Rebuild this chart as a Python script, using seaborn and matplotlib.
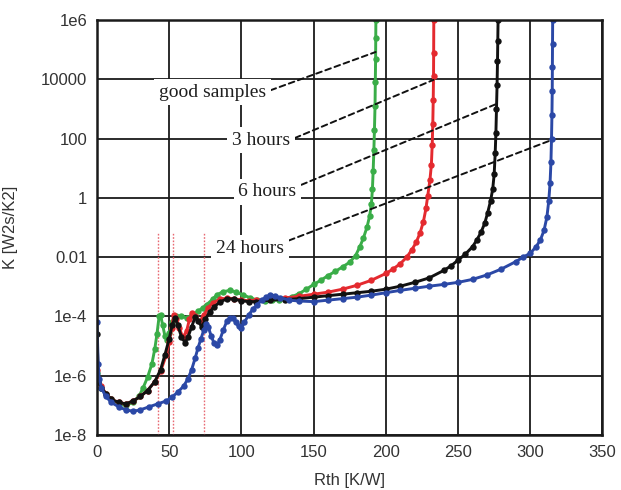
import numpy as np
import pandas as pd
import matplotlib
matplotlib.use("Agg")
import matplotlib.pyplot as plt
import seaborn as sns
from matplotlib.ticker import FixedLocator, FixedFormatter, NullLocator

# Structure functions: cumulative thermal capacitance K versus thermal resistance Rth
series_names = ["good samples", "3 hours", "6 hours", "24 hours"]
series_colors = ["#3aad48", "#e42a2f", "#111111", "#2b48a6"]

good_rth = [0, 1, 3, 6, 10, 15, 20, 25, 29, 32, 35, 38, 40, 41.5, 43, 44, 45.5, 47, 48.5, 50,
            52, 55, 58, 62, 66, 70, 73.5, 76, 80, 83, 87, 92, 96, 101, 106, 111, 116, 121, 126, 130,
            135, 140, 145, 150, 155, 160, 165, 170, 175, 179, 182, 184.5, 187, 188.8, 190, 190.7,
            191.2, 191.7, 192.1, 192.5, 192.7, 192.9, 193.0, 193.1]
good_logk = [-5.9, -6.15, -6.4, -6.6, -6.8, -6.95, -7.0, -6.9, -6.7, -6.4, -6.05, -5.6, -5.1, -4.6,
             -4.0, -3.95, -4.3, -4.65, -4.8, -4.55, -4.2, -4.0, -3.98, -4.05, -3.95, -3.82, -3.7,
             -3.6, -3.42, -3.27, -3.17, -3.12, -3.17, -3.27, -3.37, -3.45, -3.47, -3.46, -3.43, -3.4,
             -3.33, -3.23, -3.08, -2.92, -2.78, -2.62, -2.48, -2.33, -2.17, -1.95, -1.65, -1.35,
             -0.98, -0.6, -0.2, 0.3, 0.9, 1.6, 2.3, 3.1, 3.9, 4.7, 5.4, 6.0]

h3_rth = [0, 1, 3, 6, 10, 15, 20, 25, 30, 35, 40, 44, 48, 50, 51.8, 53, 55, 57, 59.5, 62,
          64, 66, 68, 71, 74, 77, 80, 85, 90, 95, 100, 105, 110, 120, 130, 140, 150, 160, 170, 180,
          190, 200, 205, 210, 214.5, 218, 221, 223.7, 226, 227.8, 229, 230.5, 231.5, 232.1, 232.5,
          232.8, 233, 233.1, 233.2]
h3_logk = [-5.8, -6.1, -6.35, -6.6, -6.8, -6.9, -6.95, -6.85, -6.7, -6.5, -6.2, -5.85, -5.3, -4.85,
           -4.4, -3.95, -4.1, -4.4, -4.7, -4.5, -4.1, -3.88, -4.0, -4.17, -3.95, -3.7, -3.55, -3.42,
           -3.38, -3.4, -3.45, -3.47, -3.45, -3.42, -3.38, -3.32, -3.25, -3.18, -3.08, -2.95,
           -2.78, -2.55, -2.4, -2.22, -2.0, -1.75, -1.5, -1.18, -0.8, -0.35, 0.07, 0.6, 1.1, 1.8,
           2.5, 3.3, 4.1, 4.9, 6.0]

h6_rth = [0, 1, 3, 6, 10, 15, 20, 25, 30, 35, 40, 44, 47, 50, 52, 54, 56, 58.5, 61, 63,
          65.5, 68, 70, 72.5, 75, 78, 81, 85, 90, 95, 100, 105, 110, 120, 130, 140, 150, 160, 170,
          180, 190, 200, 210, 220, 230, 240, 245, 250, 255, 260, 263, 266, 268.5, 270.5, 272.5,
          274, 275, 275.7, 276.2, 276.6, 277, 277.3, 277.5, 277.7]
h6_logk = [-4.6, -6.2, -6.4, -6.6, -6.8, -6.9, -6.95, -6.85, -6.7, -6.5, -6.2, -5.8, -5.3, -4.75,
           -4.3, -4.05, -4.3, -4.7, -4.88, -4.7, -4.35, -4.02, -4.15, -4.35, -4.1, -3.85, -3.68,
           -3.52, -3.4, -3.42, -3.47, -3.5, -3.5, -3.45, -3.43, -3.4, -3.35, -3.3, -3.25, -3.2,
           -3.15, -3.08, -2.98, -2.85, -2.7, -2.45, -2.3, -2.1, -1.9, -1.65, -1.42, -1.15, -0.85,
           -0.5, -0.1, 0.3, 0.8, 1.5, 2.2, 3.0, 3.8, 4.6, 5.3, 6.0]

h24_rth = [0, 0.8, 1.5, 3, 6, 10, 15, 20, 25, 30, 36, 42, 48, 52, 56, 60, 63, 65.5, 68, 70,
           72, 74, 75.5, 77, 79, 81, 83, 85, 87.5, 90, 92, 94, 96, 98, 100, 102, 105, 108, 111, 114,
           117, 120, 123, 127, 133, 140, 150, 160, 170, 180, 190, 200, 210, 220, 230, 240, 250,
           260, 270, 280, 290, 295, 300, 304, 307, 309.5, 311.5, 312.8, 313.7, 314.3, 314.7, 315,
           315.2, 315.3, 315.4, 315.5]
h24_logk = [-4.2, -5.6, -6.1, -6.4, -6.7, -6.9, -7.05, -7.15, -7.2, -7.15, -7.05, -6.95, -6.85,
            -6.72, -6.55, -6.35, -6.1, -5.8, -5.4, -5.05, -4.75, -4.45, -4.25, -4.35, -4.65, -4.9,
            -4.97, -4.8, -4.45, -4.15, -4.05, -4.05, -4.2, -4.33, -4.38, -4.2, -3.95, -3.75, -3.6,
            -3.45, -3.35, -3.27, -3.3, -3.37, -3.45, -3.48, -3.5, -3.45, -3.4, -3.35, -3.28, -3.2,
            -3.12, -3.05, -2.98, -2.92, -2.85, -2.75, -2.6, -2.4, -2.15, -2.0, -1.87, -1.65, -1.42,
            -1.1, -0.65, -0.1, 0.5, 1.2, 2.0, 2.8, 3.6, 4.4, 5.2, 6.0]

series_rth = [good_rth, h3_rth, h6_rth, h24_rth]
series_logk = [good_logk, h3_logk, h6_logk, h24_logk]

# Reference Rth positions marked with dotted lines
marker_rth = [42, 52.5, 74]
marker_top_logk = -1.2

# Callout labels and where their leaders meet each curve
label_rth = [79.7, 113.5, 118, 106]
label_logk = [3.57, 1.95, 0.2, -1.7]
leader_logk = [4.92, 3.98, 3.17, 1.95]
leader_relpos = [(1, 0.5), (1, 0.5), (1, 0.8), (1, 0.85)]

x_ticks = [0, 50, 100, 150, 200, 250, 300, 350]
y_ticks = [1e-8, 1e-6, 1e-4, 1e-2, 1, 1e2, 1e4, 1e6]
y_tick_labels = ["1e-8", "1e-6", "1e-4", "0.01", "1", "100", "10000", "1e6"]

frames = []
for name, rth, logk in zip(series_names, series_rth, series_logk):
    frames.append(pd.DataFrame({"Rth": rth, "K": np.power(10.0, logk), "sample": name}))
df = pd.concat(frames, ignore_index=True)

sns.set_style("white")
plt.rcParams["font.family"] = ["Liberation Sans", "DejaVu Sans"]

fig = plt.figure(figsize=(6.21, 4.90), dpi=100)
ax = fig.add_axes([0.1562, 0.1122, 0.814, 0.847])

ax.set_yscale("log")
ax.set_xlim(0, 350)
ax.set_ylim(1e-8, 1e6)

ax.set_axisbelow(True)
ax.grid(True, which="major", color="#1a1a1a", linewidth=1.3)

for xr in marker_rth:
    ax.plot([xr, xr], [1e-8, 10 ** marker_top_logk], color="#e86a72", linestyle=(0, (1.2, 1.2)),
            linewidth=1.0, zorder=1.5)

sns.lineplot(data=df, x="Rth", y="K", hue="sample", hue_order=series_names,
             palette=dict(zip(series_names, series_colors)), estimator=None, sort=False,
             marker="o", markersize=4.6, markeredgewidth=0, linewidth=2.1, legend=False,
             ax=ax, zorder=2.5)

for i, name in enumerate(series_names):
    rth = np.asarray(series_rth[i])
    logk = np.asarray(series_logk[i])
    upper = rth > 150
    target_x = np.interp(leader_logk[i], logk[upper], rth[upper])
    ax.annotate(name, xy=(target_x, 10 ** leader_logk[i]),
                xytext=(label_rth[i], 10 ** label_logk[i]),
                ha="center", va="center", fontsize=14, color="#1e1e1e",
                family=["Liberation Serif", "DejaVu Serif"],
                bbox=dict(boxstyle="square,pad=0.25", facecolor="white", edgecolor="none"),
                arrowprops=dict(arrowstyle="-", linestyle=(0, (3, 2)), linewidth=1.4,
                                color="#111111", shrinkA=0, shrinkB=0,
                                relpos=leader_relpos[i]),
                zorder=4)

ax.xaxis.set_major_locator(FixedLocator(x_ticks))
ax.yaxis.set_major_locator(FixedLocator(y_ticks))
ax.yaxis.set_major_formatter(FixedFormatter(y_tick_labels))
ax.yaxis.set_minor_locator(NullLocator())
ax.tick_params(axis="both", which="major", labelsize=12, labelcolor="#333333",
               direction="in", length=4, width=1.2, color="#1a1a1a", pad=7)

for spine in ax.spines.values():
    spine.set_linewidth(1.8)
    spine.set_color("#1a1a1a")

ax.set_xlabel("Rth [K/W]", fontsize=12, color="#333333")
ax.set_ylabel("K [W2s/K2]", fontsize=12, color="#333333")
ax.xaxis.set_label_coords(0.5, -0.092)
ax.yaxis.set_label_coords(-0.156, 0.5)

fig.savefig("out.png", dpi=100)
